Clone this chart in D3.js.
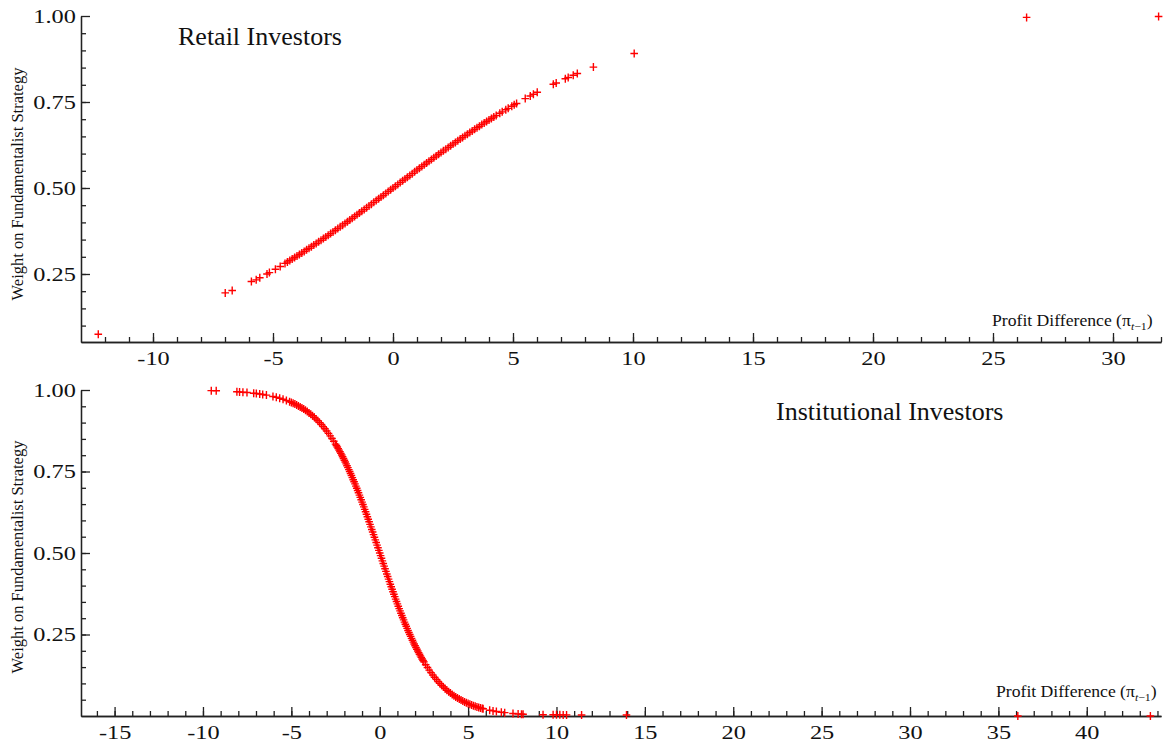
<!DOCTYPE html>
<html>
<head>
<meta charset="utf-8">
<script src="https://cdn.jsdelivr.net/npm/d3@7"></script>
<style>
body { margin: 0; background: #fff; }
text { font-family: "Liberation Serif", "DejaVu Serif", serif; fill: #111; }
</style>
</head>
<body>
<svg></svg>
<script>
// [profit difference, weight]
const retailPoints = [
  [-12.28,0.075],[-6.99,0.195],[-6.70,0.202],[-5.90,0.228],[-5.70,0.233],[-5.55,0.239],[-5.25,0.250],[-5.15,0.254],[-4.90,0.264],[-4.70,0.272],
  [-4.5,0.2808],[-4.4,0.2850],[-4.3,0.2893],[-4.2,0.2936],[-4.1,0.2979],[-4.0,0.3023],[-3.9,0.3068],[-3.8,0.3112],[-3.7,0.3157],[-3.6,0.3203],
  [-3.5,0.3248],[-3.4,0.3295],[-3.3,0.3341],[-3.2,0.3388],[-3.1,0.3435],[-3.0,0.3482],[-2.9,0.3529],[-2.8,0.3577],[-2.7,0.3625],[-2.6,0.3674],
  [-2.5,0.3723],[-2.4,0.3772],[-2.3,0.3821],[-2.2,0.3871],[-2.1,0.3920],[-2.0,0.3970],[-1.9,0.4020],[-1.8,0.4071],[-1.7,0.4121],[-1.6,0.4172],
  [-1.5,0.4223],[-1.4,0.4274],[-1.3,0.4325],[-1.2,0.4376],[-1.1,0.4428],[-1.0,0.4479],[-0.9,0.4531],[-0.8,0.4583],[-0.7,0.4635],[-0.6,0.4687],
  [-0.5,0.4739],[-0.4,0.4791],[-0.3,0.4843],[-0.2,0.4896],[-0.1,0.4948],[0.0,0.5000],
  [0.1,0.5052],[0.2,0.5104],[0.3,0.5157],[0.4,0.5209],[0.5,0.5261],[0.6,0.5313],[0.7,0.5365],[0.8,0.5417],[0.9,0.5469],[1.0,0.5521],
  [1.1,0.5572],[1.2,0.5624],[1.3,0.5675],[1.4,0.5726],[1.5,0.5777],[1.6,0.5828],[1.7,0.5879],[1.8,0.5929],[1.9,0.5980],[2.0,0.6030],
  [2.1,0.6080],[2.2,0.6129],[2.3,0.6179],[2.4,0.6228],[2.5,0.6277],[2.6,0.6326],[2.7,0.6375],[2.8,0.6423],[2.9,0.6471],[3.0,0.6518],
  [3.1,0.6565],[3.2,0.6612],[3.3,0.6659],[3.4,0.6705],[3.5,0.6752],[3.6,0.6797],[3.7,0.6843],[3.8,0.6888],[3.9,0.6932],[4.0,0.6977],
  [4.1,0.7021],[4.2,0.7064],[4.3,0.7107],
  [4.45,0.7171],[4.55,0.7213],[4.70,0.7275],[4.80,0.7316],[4.95,0.7378],[5.05,0.7418],[5.15,0.7457],[5.51,0.7599],[5.72,0.7676],[5.85,0.7726],
  [6.01,0.7783],[6.68,0.8015],[6.80,0.8054],[7.18,0.8177],[7.30,0.8214],[7.51,0.8278],[7.68,0.8327],[8.35,0.8514],[10.05,0.8909],[26.4,0.996],[31.9,0.9987]
];

const institutionalPoints = [
  [-9.53,0.998],[-9.25,0.9975],[-8.08,0.9946],[-7.93,0.9941],[-7.74,0.9933],[-7.51,0.9922],[-7.13,0.9901],[-6.98,0.9891],[-6.79,0.9877],[-6.62,0.9863],
  [-6.41,0.9843],[-6.04,0.9801],[-5.85,0.9777],[-5.66,0.9748],[-5.47,0.9716],[-5.28,0.9680],
  [-5.1,0.9642],[-5.0,0.9619],[-4.9,0.9595],[-4.8,0.9569],[-4.7,0.9542],[-4.6,0.9513],[-4.5,0.9482],[-4.4,0.9449],[-4.3,0.9415],[-4.2,0.9378],
  [-4.1,0.9339],[-4.0,0.9298],[-3.9,0.9255],[-3.8,0.9209],[-3.7,0.9161],[-3.6,0.9110],[-3.5,0.9056],[-3.4,0.8999],[-3.3,0.8940],[-3.2,0.8877],
  [-3.1,0.8811],[-3.0,0.8741],[-2.9,0.8668],[-2.8,0.8592],[-2.7,0.8512],[-2.6,0.8429],
  [-2.5,0.8341],[-2.45,0.8296],[-2.4,0.8250],[-2.35,0.8203],[-2.3,0.8155],[-2.25,0.8105],[-2.2,0.8055],[-2.15,0.8004],[-2.1,0.7952],[-2.05,0.7899],
  [-2.0,0.7845],[-1.95,0.7790],[-1.9,0.7734],[-1.85,0.7677],[-1.8,0.7618],[-1.75,0.7559],[-1.7,0.7499],[-1.65,0.7438],[-1.6,0.7376],[-1.55,0.7313],
  [-1.5,0.7249],[-1.45,0.7184],[-1.4,0.7119],[-1.35,0.7052],[-1.3,0.6984],[-1.25,0.6916],[-1.2,0.6847],[-1.15,0.6776],[-1.1,0.6705],[-1.05,0.6634],
  [-1.0,0.6561],[-0.95,0.6488],[-0.9,0.6414],[-0.85,0.6339],[-0.8,0.6264],[-0.75,0.6188],[-0.7,0.6112],[-0.65,0.6035],[-0.6,0.5957],[-0.55,0.5879],
  [-0.5,0.5801],[-0.45,0.5722],[-0.4,0.5642],[-0.35,0.5563],[-0.3,0.5483],[-0.25,0.5403],[-0.2,0.5323],[-0.15,0.5242],[-0.1,0.5161],[-0.05,0.5081],
  [0.0,0.5000],
  [0.05,0.4919],[0.10,0.4839],[0.15,0.4758],[0.20,0.4677],[0.25,0.4597],[0.30,0.4517],[0.35,0.4437],[0.40,0.4358],[0.45,0.4278],[0.50,0.4199],
  [0.55,0.4121],[0.60,0.4043],[0.65,0.3965],[0.70,0.3888],[0.75,0.3812],[0.80,0.3736],[0.85,0.3661],[0.90,0.3586],[0.95,0.3512],[1.00,0.3439],
  [1.05,0.3366],[1.10,0.3295],[1.15,0.3224],[1.20,0.3153],[1.25,0.3084],[1.30,0.3016],[1.35,0.2948],[1.40,0.2881],[1.45,0.2816],[1.50,0.2751],
  [1.55,0.2687],[1.60,0.2624],[1.65,0.2562],[1.70,0.2501],[1.75,0.2441],[1.80,0.2382],[1.85,0.2323],[1.90,0.2266],[1.95,0.2210],[2.00,0.2155],
  [2.05,0.2101],[2.10,0.2048],[2.15,0.1996],[2.20,0.1945],[2.25,0.1895],[2.30,0.1845],[2.35,0.1797],[2.40,0.1750],[2.45,0.1704],[2.50,0.1659],
  [2.6,0.1571],[2.7,0.1488],[2.8,0.1408],[2.9,0.1332],[3.0,0.1259],[3.1,0.1189],[3.2,0.1123],[3.3,0.1060],[3.4,0.1001],[3.5,0.0944],
  [3.6,0.0890],[3.7,0.0839],[3.8,0.0791],[3.9,0.0745],[4.0,0.0702],[4.1,0.0661],[4.2,0.0622],[4.3,0.0585],[4.4,0.0551],[4.5,0.0518],
  [4.6,0.0487],[4.7,0.0458],[4.8,0.0431],[4.9,0.0405],[5.0,0.0381],[5.1,0.0358],[5.2,0.0336],[5.3,0.0316],[5.4,0.0297],[5.5,0.0278],
  [5.6,0.0261],[5.7,0.0246],[5.8,0.0231],
  [5.85,0.0224],[6.22,0.0177],[6.41,0.0157],[6.60,0.0139],[6.88,0.0116],[7.07,0.0103],[7.54,0.0076],[7.83,0.0063],[8.02,0.0056],[8.11,0.0053],
  [9.24,0.0040],[9.81,0.0038],[10.00,0.0036],[10.19,0.0035],[10.38,0.0034],[10.57,0.0033],[11.42,0.0030],[13.96,0.0030],[36.1,0.0000],[43.6,0.0000]
];

const retailXTicks = [-10, -5, 0, 5, 10, 15, 20, 25, 30];
const institutionalXTicks = [-15, -10, -5, 0, 5, 10, 15, 20, 25, 30, 35, 40];
const weightTicks = [0.25, 0.50, 0.75, 1.00];
const panelTitles = ["Retail Investors", "Institutional Investors"];
const yLabel = "Weight on Fundamentalist Strategy";

const svg = d3.select('svg')
    .attr('width', 1163)
    .attr('height', 751);

svg.append('rect').attr('width', 1163).attr('height', 751).attr('fill', '#fff');

const left = 81, right = 1161;
const axisColor = '#222';

function drawPanel(p) {
    const x = d3.scaleLinear().domain(p.xDomain).range([left, right]);
    const y = d3.scaleLinear().domain(p.yDomain).range([p.bottom, p.top]);
    const g = svg.append('g');

    // minor ticks first
    g.append('g')
        .attr('transform', `translate(0,${p.bottom})`)
        .call(d3.axisBottom(x).tickValues(p.minorX).tickSize(-5).tickSizeOuter(0).tickFormat(''));
    g.append('g')
        .attr('transform', `translate(${left},0)`)
        .call(d3.axisLeft(y).tickValues(p.minorY).tickSize(-5).tickSizeOuter(0).tickFormat(''));

    // major ticks with labels
    const xa = g.append('g')
        .attr('transform', `translate(0,${p.bottom})`)
        .call(d3.axisBottom(x).tickValues(p.xTicks).tickSize(-9).tickSizeOuter(0)
            .tickPadding(10).tickFormat(d => String(d)));
    xa.selectAll('text')
        .attr('font-size', 19)
        .attr('transform', 'scale(1.28,1)');

    const ya = g.append('g')
        .attr('transform', `translate(${left},0)`)
        .call(d3.axisLeft(y).tickValues(weightTicks).tickSize(-9).tickSizeOuter(0)
            .tickPadding(4).tickFormat(d3.format('.2f')));
    ya.selectAll('text')
        .attr('font-size', 19)
        .attr('transform', 'scale(1.28,1)');

    g.selectAll('.domain, .tick line')
        .attr('stroke', axisColor)
        .attr('stroke-width', 1.3);
    g.selectAll('.tick text').attr('fill', '#111');

    // y axis label
    g.append('text')
        .text(yLabel)
        .attr('transform', `translate(23,${p.labelY}) rotate(-90)`)
        .attr('text-anchor', 'middle')
        .attr('font-size', 16.5);

    // x axis label
    const xl = g.append('text')
        .attr('transform', `translate(${p.xLabel[0]},${p.xLabel[1]}) scale(1.07,1)`)
        .attr('font-size', 16.5);
    xl.append('tspan').text('Profit Difference (\u03c0');
    xl.append('tspan').text('t').attr('font-style', 'italic').attr('font-size', 11).attr('dy', 4);
    xl.append('tspan').text('\u22121').attr('font-size', 11);
    xl.append('tspan').text(')').attr('dy', -4);

    // panel title
    g.append('text')
        .text(p.title)
        .attr('x', p.titlePos[0])
        .attr('y', p.titlePos[1])
        .attr('font-size', 26);

    // points
    g.append('g').selectAll('path')
        .data(p.points)
        .join('path')
        .attr('transform', d => `translate(${x(d[0])},${y(d[1])})`)
        .attr('d', 'M-3.8,0H3.8M0,-4V4')
        .attr('stroke', '#ff0000')
        .attr('stroke-width', 1.4)
        .attr('fill', 'none');
}

drawPanel({
    points: retailPoints,
    xDomain: [-13, 32],
    yDomain: [0.0523, 1],
    top: 16,
    bottom: 342,
    xTicks: retailXTicks,
    minorX: d3.range(-12, 33),
    minorY: d3.range(2, 20).map(i => i * 0.05),
    labelY: 184,
    xLabel: [992, 326],
    title: panelTitles[0],
    titlePos: [178, 45]
});

drawPanel({
    points: institutionalPoints,
    xDomain: [-16.9, 44.2],
    yDomain: [0, 1],
    top: 390,
    bottom: 716,
    xTicks: institutionalXTicks,
    minorX: d3.range(-16, 45),
    minorY: d3.range(1, 20).map(i => i * 0.05),
    labelY: 557,
    xLabel: [996, 697],
    title: panelTitles[1],
    titlePos: [776, 420]
});
</script>
</body>
</html>
